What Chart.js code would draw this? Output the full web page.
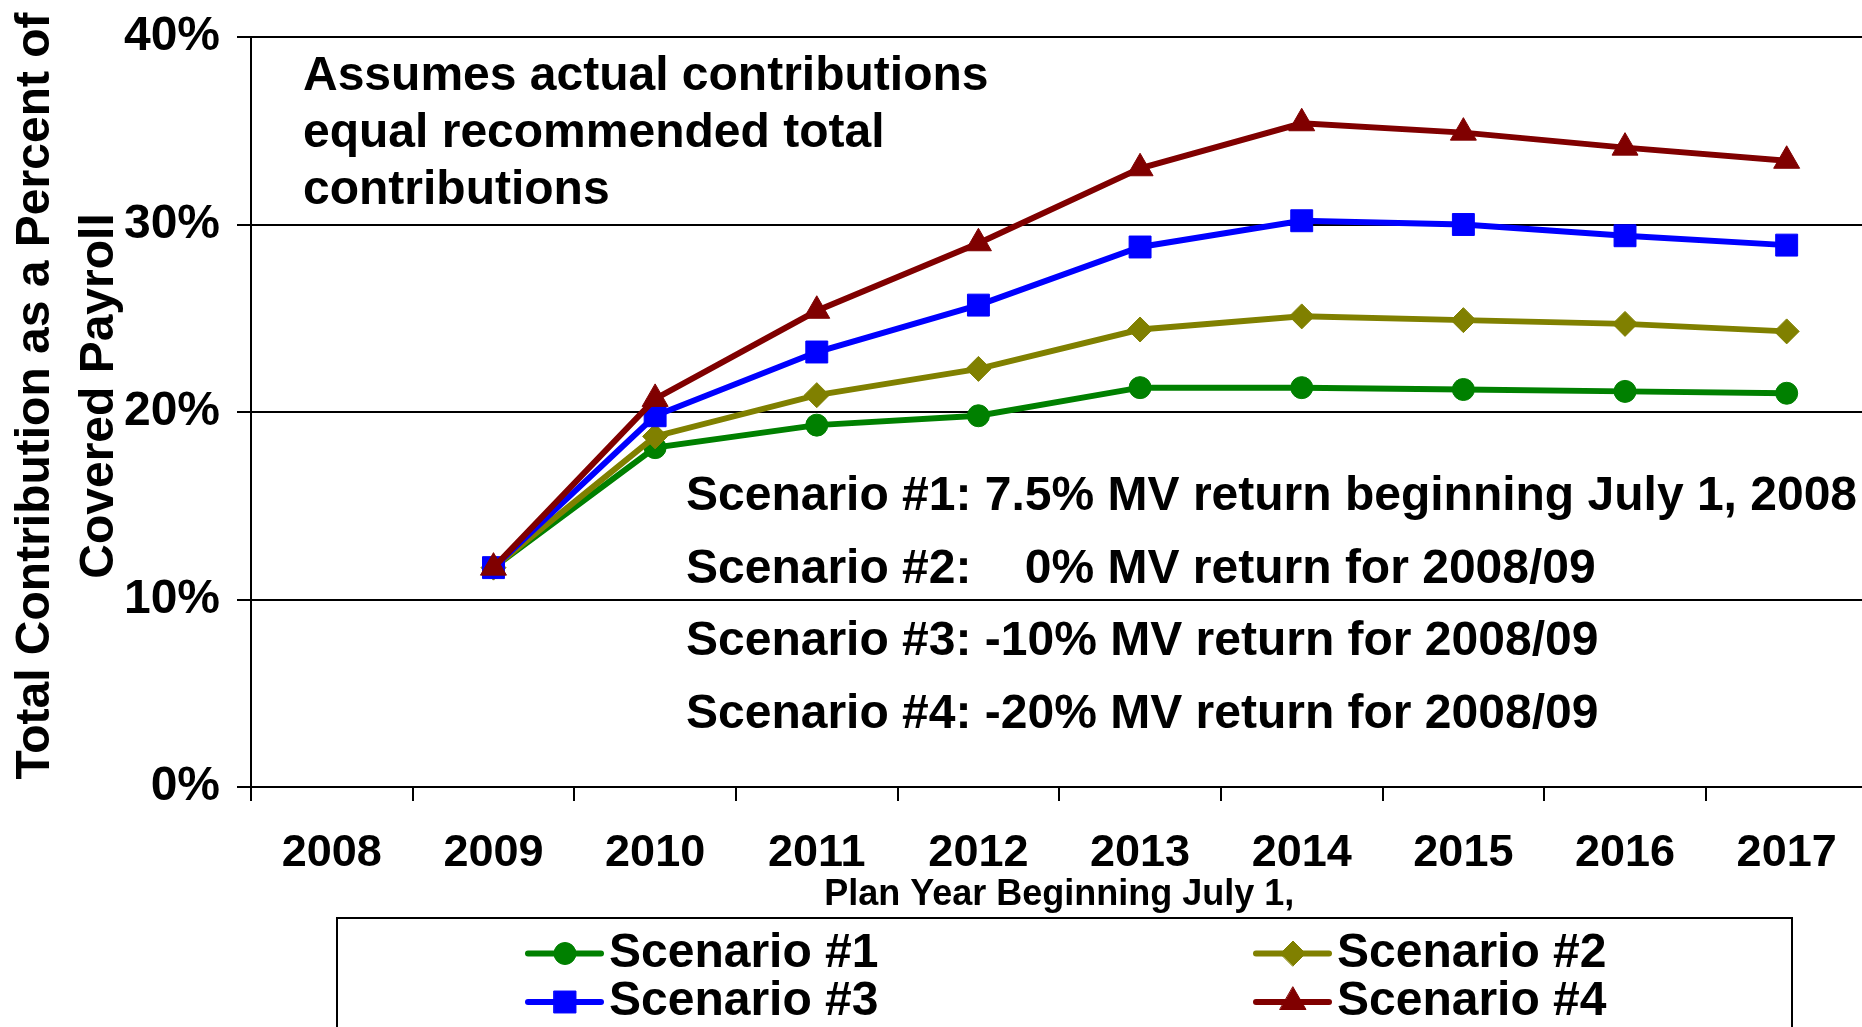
<!DOCTYPE html>
<html>
<head>
<meta charset="utf-8">
<script src="https://cdn.jsdelivr.net/npm/chart.js@4.4.0/dist/chart.umd.min.js"></script>
<style>
  html, body { margin: 0; padding: 0; background: #fff; overflow: hidden; }
  #wrap { position: relative; width: 1884px; height: 1027px; }
</style>
</head>
<body>
<div id="wrap"><canvas id="chart" width="1884" height="1027"></canvas></div>
<script>
const years = ['2008', '2009', '2010', '2011', '2012', '2013', '2014', '2015', '2016', '2017'];
const scenario1 = [null, 11.7, 18.1, 19.3, 19.8, 21.3, 21.3, 21.2, 21.1, 21.0];
const scenario2 = [null, 11.7, 18.7, 20.9, 22.3, 24.4, 25.1, 24.9, 24.7, 24.3];
const scenario3 = [null, 11.7, 19.8, 23.2, 25.7, 28.8, 30.2, 30.0, 29.4, 28.9];
const scenario4 = [null, 11.7, 20.7, 25.4, 29.0, 33.0, 35.4, 34.9, 34.1, 33.4];
const yTicks = [0, 10, 20, 30, 40];

const yTitle = ['Total Contribution as a Percent of', 'Covered Payroll'];
const xTitle = 'Plan Year Beginning July 1,';
const assumptionNote = ['Assumes actual contributions', 'equal recommended total', 'contributions'];
const scenarioNotes = [
    'Scenario #1: 7.5% MV return beginning July 1, 2008',
    'Scenario #2:    0% MV return for 2008/09',
    'Scenario #3: -10% MV return for 2008/09',
    'Scenario #4: -20% MV return for 2008/09'
];

const FONT = '"Liberation Sans", Arial, sans-serif';

const series = [
    { label: 'Scenario #1', data: scenario1, color: '#008000', style: 'circle', radius: 11, order: 3 },
    { label: 'Scenario #2', data: scenario2, color: '#808000', style: 'rectRot', radius: 12.5, order: 2 },
    { label: 'Scenario #3', data: scenario3, color: '#0000FF', style: 'rect', radius: 15.5, order: 1 },
    { label: 'Scenario #4', data: scenario4, color: '#800000', style: 'triangle', radius: 15, order: 0 }
];

// texts and the boxed legend are drawn on the canvas after the chart
const notesPlugin = {
    id: 'notes',
    afterDraw(chart) {
        const ctx = chart.ctx;
        ctx.save();
        ctx.fillStyle = '#000';
        ctx.font = `bold 48px ${FONT}`;
        ctx.textBaseline = 'middle';

        // y axis title, two rotated lines
        ctx.save();
        ctx.translate(35.5, 396);
        ctx.rotate(-Math.PI / 2);
        ctx.textAlign = 'center';
        yTitle.forEach((line, i) => ctx.fillText(line, 0, i * 64));
        ctx.restore();

        ctx.textAlign = 'left';
        assumptionNote.forEach((line, i) => ctx.fillText(line, 303, 76.5 + i * 57));
        scenarioNotes.forEach((line, i) => ctx.fillText(line, 686, 496.5 + i * 72.8));

        // legend box
        ctx.lineWidth = 2;
        ctx.strokeStyle = '#000';
        ctx.strokeRect(337, 918, 1455, 200);

        const cols = [528, 1256];
        const rows = [953.5, 1002];
        series.forEach((s, i) => {
            const x = cols[i % 2];
            const y = rows[Math.floor(i / 2)];
            ctx.strokeStyle = s.color;
            ctx.fillStyle = s.color;
            ctx.lineWidth = 6;
            ctx.lineCap = 'round';
            ctx.beginPath();
            ctx.moveTo(x, y);
            ctx.lineTo(x + 73, y);
            ctx.stroke();
            ctx.lineWidth = 1;
            Chart.helpers.drawPoint(ctx, { pointStyle: s.style, radius: s.radius, rotation: 0, borderWidth: 1 }, x + 37, y);
            ctx.fillStyle = '#000';
            ctx.fillText(s.label, x + 81, y);
        });
        ctx.restore();
    }
};

new Chart(document.getElementById('chart'), {
    type: 'line',
    data: {
        labels: years,
        datasets: series.map(s => ({
            label: s.label,
            data: s.data,
            order: s.order,
            borderColor: s.color,
            backgroundColor: s.color,
            borderWidth: 6,
            tension: 0,
            pointStyle: s.style,
            pointRadius: s.radius,
            pointBackgroundColor: s.color,
            pointBorderColor: s.color,
            pointBorderWidth: 1
        }))
    },
    options: {
        responsive: false,
        animation: false,
        devicePixelRatio: 1,
        layout: { padding: { top: 37, right: 0, bottom: 0, left: 0 } },
        plugins: { legend: { display: false }, tooltip: { enabled: false } },
        scales: {
            x: {
                offset: true,
                afterFit: s => { s.height = 240; },
                grid: { display: true, drawOnChartArea: false, drawTicks: true, tickLength: 14, offset: true, color: '#000', lineWidth: 2 },
                border: { color: '#000', width: 2 },
                ticks: { color: '#000', padding: 26, maxRotation: 0, font: { family: FONT, size: 45, weight: 'bold' } },
                title: {
                    display: true,
                    text: xTitle,
                    color: '#000',
                    font: { family: FONT, size: 36, weight: 'bold' },
                    padding: { top: 0, bottom: 110 }
                }
            },
            y: {
                min: 0,
                max: 40,
                afterFit: s => { s.width = 251; },
                afterBuildTicks: s => { s.ticks = yTicks.map(v => ({ value: v })); },
                grid: { color: '#000', lineWidth: 2, tickLength: 14 },
                border: { color: '#000', width: 2 },
                ticks: {
                    color: '#000',
                    padding: 17,
                    font: { family: FONT, size: 48, weight: 'bold', lineHeight: 0.8 },
                    callback: v => v + '%'
                }
            }
        }
    },
    plugins: [notesPlugin]
});
</script>
</body>
</html>
